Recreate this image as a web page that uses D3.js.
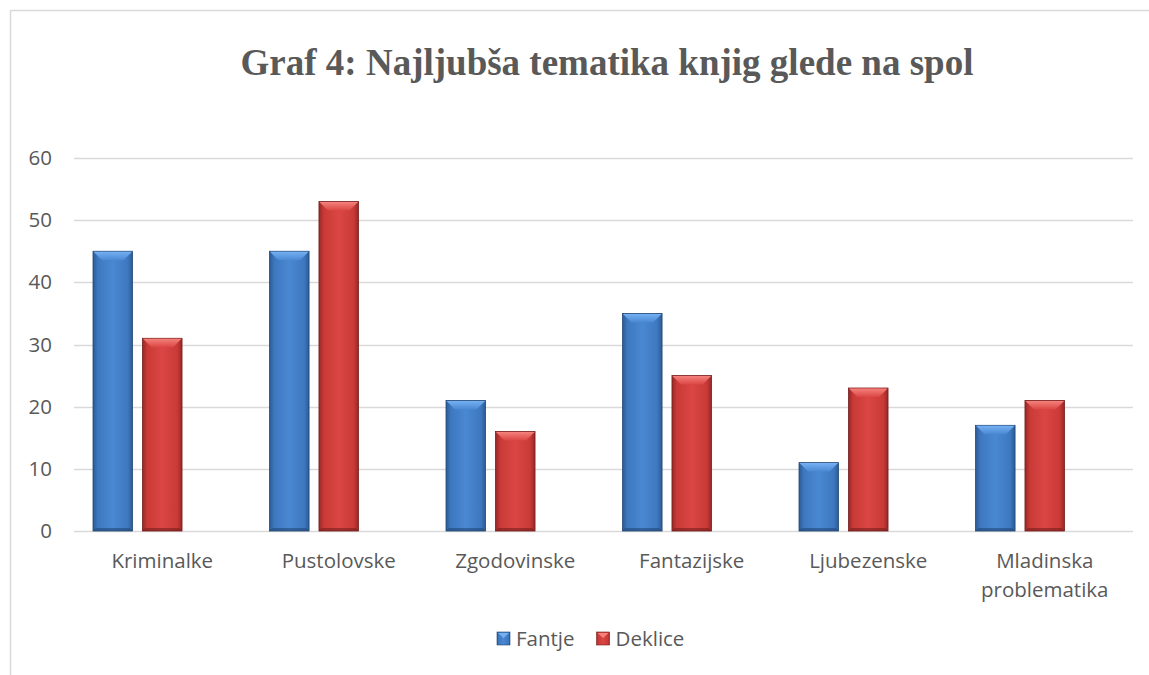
<!DOCTYPE html>
<html>
<head>
<meta charset="utf-8">
<script src="https://cdn.jsdelivr.net/npm/d3@7"></script>
<style>
  body { margin: 0; background: #fff; }
  svg { display: block; }
</style>
</head>
<body>
<svg id="chart"></svg>
<script>
const categories = ['Kriminalke', 'Pustolovske', 'Zgodovinske', 'Fantazijske', 'Ljubezenske', 'Mladinska problematika'];
const fantje = [45, 45, 21, 35, 11, 17];
const deklice = [31, 53, 16, 25, 23, 21];
const seriesNames = ['Fantje', 'Deklice'];
const yTicks = [0, 10, 20, 30, 40, 50, 60];
const title = 'Graf 4: Najljubša tematika knjig glede na spol';

const W = 1149, H = 675;
const margin = { top: 158, right: 16, bottom: 144, left: 74 };
const width = W - margin.left - margin.right;
const height = H - margin.top - margin.bottom;
const labelFont = '"Open Sans", Lato, sans-serif';
const labelSize = 20.5;

const svg = d3.select('#chart').attr('width', W).attr('height', H);

// chart border
svg.append('rect')
  .attr('x', 10.5).attr('y', 10.5)
  .attr('width', W + 10).attr('height', H + 10)
  .attr('fill', 'none').attr('stroke', '#d9d9d9').attr('stroke-width', 1.5);

svg.append('text')
  .attr('x', 607).attr('y', 75)
  .attr('text-anchor', 'middle')
  .attr('font-family', '"Liberation Serif", serif')
  .attr('font-weight', 'bold')
  .attr('font-size', 37)
  .attr('fill', '#595959')
  .text(title);

const g = svg.append('g').attr('transform', `translate(${margin.left},${margin.top})`);

const x = d3.scaleBand().domain(categories).range([0, width]).paddingInner(0).paddingOuter(0);
// three slots per category, third one left empty (as in the source chart)
const x1 = d3.scaleBand().domain([0, 1, 2]).range([19, x.bandwidth() - 19]).paddingInner(0.2);
const y = d3.scaleLinear().domain([0, 60]).range([height, 0]);

// grid
g.selectAll('.grid').data(yTicks).enter().append('line')
  .attr('x1', 0).attr('x2', width)
  .attr('y1', d => Math.round(y(d)) + 0.5).attr('y2', d => Math.round(y(d)) + 0.5)
  .attr('stroke', '#d9d9d9').attr('stroke-width', 1.5);

// y labels
const yAxis = d3.axisLeft(y).tickValues(yTicks).tickSize(0).tickPadding(22);
g.append('g').call(yAxis).call(s => s.select('.domain').remove())
  .selectAll('text')
  .attr('font-family', labelFont)
  .attr('font-size', labelSize)
  .attr('fill', '#595959');

// x labels
const xAxis = d3.axisBottom(x).tickSize(0).tickPadding(0).tickFormat('');
g.append('g').attr('transform', `translate(0,${height})`).call(xAxis)
  .call(s => s.select('.domain').remove());
categories.forEach(c => {
  const words = c.split(' ');
  const t = g.append('text')
    .attr('x', x(c) + x.bandwidth() / 2)
    .attr('y', height + 37)
    .attr('text-anchor', 'middle')
    .attr('font-family', labelFont)
    .attr('font-size', labelSize)
    .attr('fill', '#595959');
  words.forEach((w, i) => t.append('tspan').attr('x', x(c) + x.bandwidth() / 2).attr('dy', i ? 29 : 0).text(w));
});

// gradients
const defs = svg.append('defs');
const palettes = [
  { id: 'blue', edge: '#2c5a93', mid: '#4a88d2', light: '#3d78bf', top: '#74b0f2', side: '#234876' },
  { id: 'red', edge: '#952826', mid: '#da4643', light: '#c93a37', top: '#f5817c', side: '#761e1c' }
];
palettes.forEach(p => {
  const lg = defs.append('linearGradient').attr('id', 'grad-' + p.id).attr('x1', 0).attr('x2', 1).attr('y1', 0).attr('y2', 0);
  lg.append('stop').attr('offset', '0%').attr('stop-color', p.edge);
  lg.append('stop').attr('offset', '12%').attr('stop-color', p.light);
  lg.append('stop').attr('offset', '50%').attr('stop-color', p.mid);
  lg.append('stop').attr('offset', '88%').attr('stop-color', p.light);
  lg.append('stop').attr('offset', '100%').attr('stop-color', p.edge);
  const tg = defs.append('linearGradient').attr('id', 'top-' + p.id).attr('x1', 0).attr('x2', 0).attr('y1', 0).attr('y2', 1);
  tg.append('stop').attr('offset', '0%').attr('stop-color', p.top);
  tg.append('stop').attr('offset', '100%').attr('stop-color', p.mid);
});

const series = [fantje, deklice];
series.forEach((vals, si) => {
  const p = palettes[si];
  const bw = x1.bandwidth();
  const bars = g.selectAll('.bar-' + si).data(categories.map((c, i) => ({ c, v: vals[i] }))).enter().append('g');
  bars.append('rect')
    .attr('x', d => x(d.c) + x1(si))
    .attr('y', d => y(d.v))
    .attr('width', bw)
    .attr('height', d => y(0) - y(d.v))
    .attr('fill', `url(#grad-${p.id})`)
    .attr('stroke', p.side).attr('stroke-width', 0.8);
  // top bevel
  const bev = 9;
  bars.append('path')
    .attr('d', d => {
      const x0 = x(d.c) + x1(si), y0 = y(d.v);
      return `M${x0 + 0.5},${y0 + 0.5}L${x0 + bw - 0.5},${y0 + 0.5}L${x0 + bw - bev},${y0 + bev}L${x0 + bev},${y0 + bev}Z`;
    })
    .attr('fill', `url(#top-${p.id})`);
  // bottom shade
  bars.append('path')
    .attr('d', d => {
      const x0 = x(d.c) + x1(si), y0 = y(0);
      return `M${x0},${y0}L${x0 + bw},${y0}L${x0 + bw - 3},${y0 - 3}L${x0 + 3},${y0 - 3}Z`;
    })
    .attr('fill', p.side).attr('opacity', 0.6);
});

// legend
const legend = svg.append('g').attr('transform', 'translate(497,632)');
let lx = 0;
seriesNames.forEach((n, i) => {
  const p = palettes[i];
  const item = legend.append('g').attr('transform', `translate(${lx},0)`);
  item.append('rect').attr('width', 13).attr('height', 13).attr('fill', `url(#grad-${p.id})`).attr('stroke', p.side).attr('stroke-width', 0.6);
  item.append('path').attr('d', 'M1,1L12,1L6.5,6Z').attr('fill', p.top);
  const t = item.append('text').attr('x', 19).attr('y', 13.5)
    .attr('font-family', labelFont)
    .attr('font-size', labelSize).attr('fill', '#595959').text(n);
  lx += 19 + t.node().getComputedTextLength() + 22;
});
</script>
</body>
</html>
